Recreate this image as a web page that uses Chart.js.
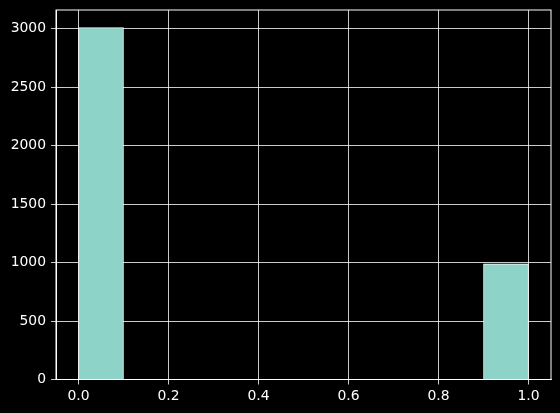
<!DOCTYPE html>
<html>
<head>
<meta charset="utf-8">
<script src="https://cdn.jsdelivr.net/npm/chart.js@4"></script>
<style>
  html, body { margin: 0; padding: 0; background: #000; }
  #wrap { width: 560px; height: 413px; }
</style>
</head>
<body>
<div id="wrap"><canvas id="grafico"></canvas></div>
<script>
// histograma: 10 bins entre 0 y 1
const centros = [0.05, 0.15, 0.25, 0.35, 0.45, 0.55, 0.65, 0.75, 0.85, 0.95];
const cuentas = [3010, 0, 0, 0, 0, 0, 0, 0, 0, 990];
const ticksX = [0.0, 0.2, 0.4, 0.6, 0.8, 1.0];
const ticksY = [0, 500, 1000, 1500, 2000, 2500, 3000];

const marco = {
  id: 'marco',
  afterDraw(chart) {
    const a = chart.chartArea;
    const ctx = chart.ctx;
    ctx.save();
    ctx.strokeStyle = '#fff';
    ctx.lineWidth = 1;
    ctx.strokeRect(a.left, a.top, a.right - a.left, a.bottom - a.top);
    ctx.restore();
  }
};

const fuente = { family: 'DejaVu Sans', size: 13.9 };

new Chart(document.getElementById('grafico').getContext('2d'), {
  type: 'bar',
  data: {
    datasets: [{
      data: centros.map((c, i) => ({ x: c, y: cuentas[i] })),
      backgroundColor: '#8dd3c7',
      borderColor: '#fff',
      borderWidth: 1,
      barPercentage: 1,
      categoryPercentage: 1
    }]
  },
  options: {
    responsive: true,
    maintainAspectRatio: false,
    animation: false,
    layout: { padding: { top: 10, right: 9, left: 0, bottom: 0 } },
    plugins: { legend: { display: false }, tooltip: { enabled: false } },
    scales: {
      x: {
        type: 'linear',
        min: -0.05,
        max: 1.05,
        offset: false,
        afterBuildTicks: s => { s.ticks = ticksX.map(v => ({ value: v })); },
        afterFit: s => { s.height = 33.5; s.paddingLeft = 0; s.paddingRight = 0; },
        grid: { offset: false, color: '#fff', lineWidth: 0.8, tickLength: 5, tickColor: '#fff' },
        border: { color: '#fff', width: 1 },
        ticks: { color: '#fff', font: fuente, padding: 4, maxRotation: 0,
          callback: v => Number(v).toFixed(1) }
      },
      y: {
        min: 0,
        max: 3160,
        afterBuildTicks: s => { s.ticks = ticksY.map(v => ({ value: v })); },
        afterFit: s => { s.width = 56; s.paddingTop = 0; s.paddingBottom = 0; },
        grid: { color: '#fff', lineWidth: 0.8, tickLength: 5, tickColor: '#fff' },
        border: { color: '#fff', width: 1 },
        ticks: { color: '#fff', font: fuente, padding: 5,
          callback: v => String(v) }
      }
    }
  },
  plugins: [marco]
});
</script>
</body>
</html>
